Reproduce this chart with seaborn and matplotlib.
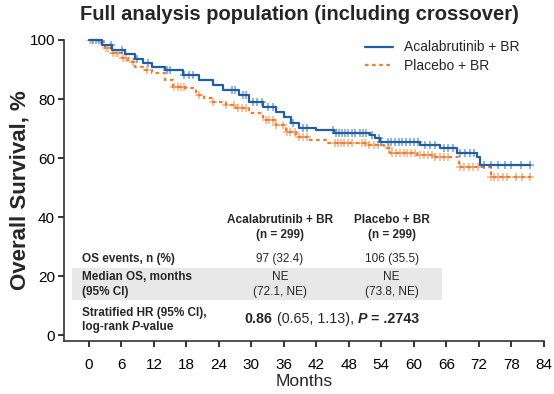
import numpy as np
import pandas as pd
import matplotlib
matplotlib.use('Agg')
import matplotlib.pyplot as plt
import seaborn as sns

# Kaplan-Meier step data (months, % surviving)
acala_time = [0, 2.5, 4.3, 6.7, 8.6, 10, 11.7, 14.1, 17.3, 20.3, 22.9, 24.7, 27.7, 29.6,
              32.2, 34.6, 36.1, 37.4, 38.8, 42.0, 45.2, 51.9, 52.8, 53.7, 61.2, 64.9,
              68, 71.7, 72.3, 81.5]
acala_surv = [100, 98.3, 96.6, 95.3, 93.5, 92.2, 90.8, 89.8, 88.1, 86.4, 84.7, 83.1, 81.4, 79.0,
              77.3, 75.6, 73.9, 71.9, 70.2, 69.5, 68.6, 67.8, 66.8, 65.4, 64.4, 63.4,
              61.7, 60.3, 57.6, 57.6]
acala_cens = [0.8, 1.3, 1.8, 2.2, 4.0, 6.2, 8.8, 11.0, 14.5, 15.0, 17.5, 18.5, 19.2, 26.5, 27.0,
              28.5, 29.0, 30.3, 31.0, 32.0, 33.0, 34.0, 37.7, 39.6, 40.3, 45.0, 45.6, 46.2,
              46.8, 47.3, 47.9, 48.5, 49.2, 50.0, 50.6, 51.2, 52.2, 53.5, 54.0, 55.2, 55.8,
              56.5, 57.2, 57.9, 58.6, 59.3, 60.0, 60.8, 62.0, 63.0, 64.0, 65.5, 66.3, 67.2,
              68.5, 69.5, 70.3, 71.2, 73.0, 74.2, 75.5, 76.8, 78.0, 79.8, 81.4]

placebo_time = [0, 1.7, 3.0, 4.3, 6.1, 7.2, 8.6, 10.4, 11.7, 14.1, 15.6, 17.8, 19.7, 21.2,
                22.9, 25.3, 27.1, 29.6, 32.2, 34.6, 36.4, 38.3, 40.7, 43.9, 51.3, 54.5,
                55.6, 60.6, 63.8, 68.4, 74.2, 81.6]
placebo_surv = [100, 99.3, 97.3, 95.6, 93.9, 92.5, 90.8, 89.8, 88.8, 86.4, 84.1, 83.7, 81.4, 80.3,
                79.0, 78.0, 76.9, 75.3, 72.9, 71.2, 68.8, 67.1, 66.1, 65.2, 64.4, 63.4,
                61.7, 61.0, 60.3, 57.0, 53.6, 53.6]
placebo_cens = [0.2, 0.6, 3.2, 3.6, 4.5, 5.0, 5.4, 6.3, 6.8, 8.2, 10.8, 15.8, 16.4, 17.0, 17.6,
                20.3, 22.9, 25.3, 26.8, 27.5, 28.2, 29.0, 32.7, 33.3, 34.0, 34.6, 35.9, 36.6,
                37.2, 38.0, 38.8, 39.5, 40.2, 45.4, 46.0, 46.6, 47.2, 47.8, 48.5, 50.4,
                51.0, 51.8, 52.6, 53.3, 55.4, 56.0, 56.7, 57.4, 58.1, 58.8, 59.5, 60.2,
                61.2, 61.9, 62.6, 63.3, 64.0, 64.8, 65.6, 66.4, 68.6, 69.3, 70.2, 71.0,
                71.8, 74.2, 74.9, 75.6, 76.4, 77.2, 78.9, 80.0, 81.4]

arm_labels = ['Acalabrutinib + BR', 'Placebo + BR']
blue = '#1f5fa5'
orange = '#ee7d31'

sns.set_style('ticks')
plt.rcParams['font.family'] = ['Liberation Sans', 'DejaVu Sans']

fig = plt.figure(figsize=(5.54, 3.94), dpi=100)
ax = fig.add_axes([0.1155, 0.1345, 0.866, 0.764])


def surv_at(times, survs, t):
    idx = np.searchsorted(times, t, side='right') - 1
    return np.asarray(survs)[idx]


acala_df = pd.DataFrame({'Months': acala_time, 'Survival': acala_surv})
placebo_df = pd.DataFrame({'Months': placebo_time, 'Survival': placebo_surv})

sns.lineplot(data=acala_df, x='Months', y='Survival', ax=ax, color=blue, lw=1.6,
             drawstyle='steps-post', estimator=None, label=arm_labels[0], clip_on=False, zorder=4)
sns.lineplot(data=placebo_df, x='Months', y='Survival', ax=ax, color=orange, lw=1.6,
             drawstyle='steps-post', estimator=None, label=arm_labels[1], clip_on=False, zorder=3)
ax.lines[1].set_dashes((1.6, 1.6))

ax.plot(acala_cens, surv_at(acala_time, acala_surv, acala_cens), ls='none', marker='+',
        ms=5.5, mew=1.1, color=blue, alpha=0.6, zorder=4)
ax.plot(placebo_cens, surv_at(placebo_time, placebo_surv, placebo_cens), ls='none', marker='+',
        ms=5.5, mew=1.1, color=orange, alpha=0.6, zorder=3)

ax.set_xlim(-4.6, 84)
ax.set_ylim(-2, 100)
ax.set_xticks(np.arange(0, 85, 6))
ax.set_yticks(np.arange(0, 101, 20))
ax.tick_params(axis='both', labelsize=11, length=4.5, width=1.1, colors='black')
ax.tick_params(axis='x', pad=8)
ax.tick_params(axis='y', pad=2)
for s in ['top', 'right']:
    ax.spines[s].set_visible(False)
for s in ['left', 'bottom']:
    ax.spines[s].set_linewidth(1.2)
    ax.spines[s].set_color('#333333')

ax.set_xlabel('Months', fontsize=12.5, labelpad=1)
ax.set_ylabel('Overall Survival, %', fontsize=16, fontweight='bold', labelpad=-1)
fig.text(0.54, 0.963, 'Full analysis population (including crossover)', ha='center', va='center',
         fontsize=14.5, fontweight='bold')

leg = ax.legend(loc='upper right', bbox_to_anchor=(0.975, 1.04), frameon=False, fontsize=10,
                handlelength=2.0, handletextpad=0.8, labelspacing=0.3)

# table
ax.add_patch(plt.Rectangle((-3.1, 11.9), 68.3, 10.8, color='#e8e8e8', zorder=0, lw=0))
col_x = [35.3, 55.9]
tfs = 8.5
for cx, lab in zip(col_x, arm_labels):
    ax.text(cx, 39, lab, ha='center', va='center', fontsize=tfs, fontweight='bold')
    ax.text(cx, 33.9, '(n = 299)', ha='center', va='center', fontsize=tfs, fontweight='bold')
ax.text(-1.3, 25.8, 'OS events, n (%)', ha='left', va='center', fontsize=tfs, fontweight='bold')
ax.text(-1.3, 19.7, 'Median OS, months', ha='left', va='center', fontsize=tfs, fontweight='bold')
ax.text(-1.3, 14.6, '(95% CI)', ha='left', va='center', fontsize=tfs, fontweight='bold')
ax.text(-1.3, 7.5, 'Stratified HR (95% CI),', ha='left', va='center', fontsize=tfs, fontweight='bold')

events = ['97 (32.4)', '106 (35.5)']
medians = ['NE', 'NE']
cis = ['(72.1, NE)', '(73.8, NE)']
for cx, e, m, c in zip(col_x, events, medians, cis):
    ax.text(cx, 25.8, e, ha='center', va='center', fontsize=tfs)
    ax.text(cx, 19.7, m, ha='center', va='center', fontsize=tfs)
    ax.text(cx, 14.6, c, ha='center', va='center', fontsize=tfs)


def chain(x, y, pieces, size):
    t = ax.text(x, y, pieces[0][0], ha='left', va='center', fontsize=size,
                fontweight=pieces[0][1], fontstyle=pieces[0][2])
    for s, w, st in pieces[1:]:
        t = ax.annotate(s, xy=(1, 0), xycoords=t, ha='left', va='bottom', fontsize=size,
                        fontweight=w, fontstyle=st)


chain(-1.3, 2.7, [('log-rank ', 'bold', 'normal'), ('P', 'bold', 'italic'),
                  ('-value', 'bold', 'normal')], tfs)
chain(28.8, 5.4, [('0.86', 'bold', 'normal'), (' (0.65, 1.13), ', 'normal', 'normal'),
                  ('P', 'bold', 'italic'), (' = .2743', 'bold', 'normal')], 10.3)

fig.savefig('out.png', dpi=100)
